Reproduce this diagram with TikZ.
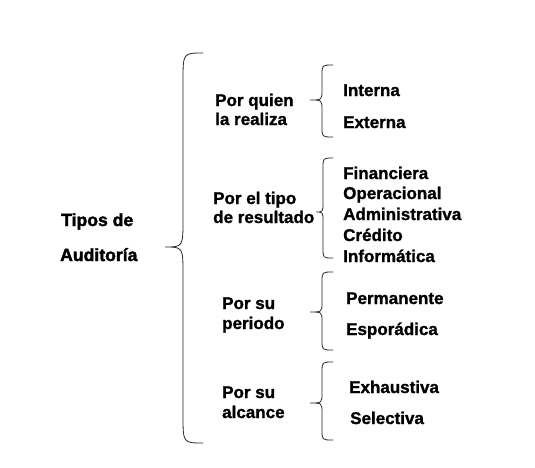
\documentclass[tikz,border=0pt]{standalone}
\usepackage{fontspec}
\setmainfont{Liberation Sans}[BoldFeatures={FakeBold=1.2}]
\newfontfamily\rootfont{Liberation Sans}[BoldFeatures={FakeBold=2}]
\newcommand\wordbrace[7]{%
  \draw[bracestyle] (#1,#4) .. controls (#2,#4) and (#2,#4) .. (#2,#4+#7)
    -- (#2,#5-#7) .. controls (#2,#5) and (#2,#5) .. (#3,#5)
    .. controls (#2,#5) and (#2,#5) .. (#2,#5+#7)
    -- (#2,#6-#7) .. controls (#2,#6) and (#2,#6) .. (#1,#6);}
\begin{document}
\begin{tikzpicture}[x=1pt,y=-1pt,
  lbl/.style={anchor=base west,inner sep=0pt,font=\fontsize{17}{20}\selectfont\bfseries},
  rootlbl/.style={anchor=base west,inner sep=0pt,font=\rootfont\fontsize{17.6}{20}\selectfont\bfseries},
  bracestyle/.style={draw=black!85,line width=0.8pt}]
\useasboundingbox[fill=white] (0,0) rectangle (535,467);
% root
\node[rootlbl] (t1) at (61,226) {Tipos de};
\node[rootlbl] (t2) at (60,261) {Auditoría};
% braces
\wordbrace{203}{183}{165}{53}{247}{443}{28}
\wordbrace{333}{322}{310}{65}{100}{137}{10}
\wordbrace{333}{323}{316}{158}{212}{258}{10}
\wordbrace{333}{322}{310}{272}{312}{350}{10}
\wordbrace{333}{322}{310}{362}{403}{440}{10}
% categories
\node[lbl] (a1) at (215,106) {Por quien};
\node[lbl] (a2) at (215,125) {la realiza};
\node[lbl] (b1) at (213,204) {Por el tipo};
\node[lbl] (b2) at (213,223) {de resultado};
\node[lbl] (c1) at (222,309) {Por su};
\node[lbl] (c2) at (222,329) {periodo};
\node[lbl] (d1) at (222,398) {Por su};
\node[lbl] (d2) at (222,418) {alcance};
% items
\node[lbl] (i1) at (343,96) {Interna};
\node[lbl] (i2) at (343,128) {Externa};
\node[lbl] (r1) at (343,179) {Financiera};
\node[lbl] (r2) at (343,199) {Operacional};
\node[lbl] (r3) at (343,220) {Administrativa};
\node[lbl] (r4) at (343,241) {Crédito};
\node[lbl] (r5) at (343,262) {Informática};
\node[lbl] (p1) at (346,304) {Permanente};
\node[lbl] (p2) at (346,335) {Esporádica};
\node[lbl] (e1) at (349,393) {Exhaustiva};
\node[lbl] (e2) at (350,424) {Selectiva};
\end{tikzpicture}
\end{document}
